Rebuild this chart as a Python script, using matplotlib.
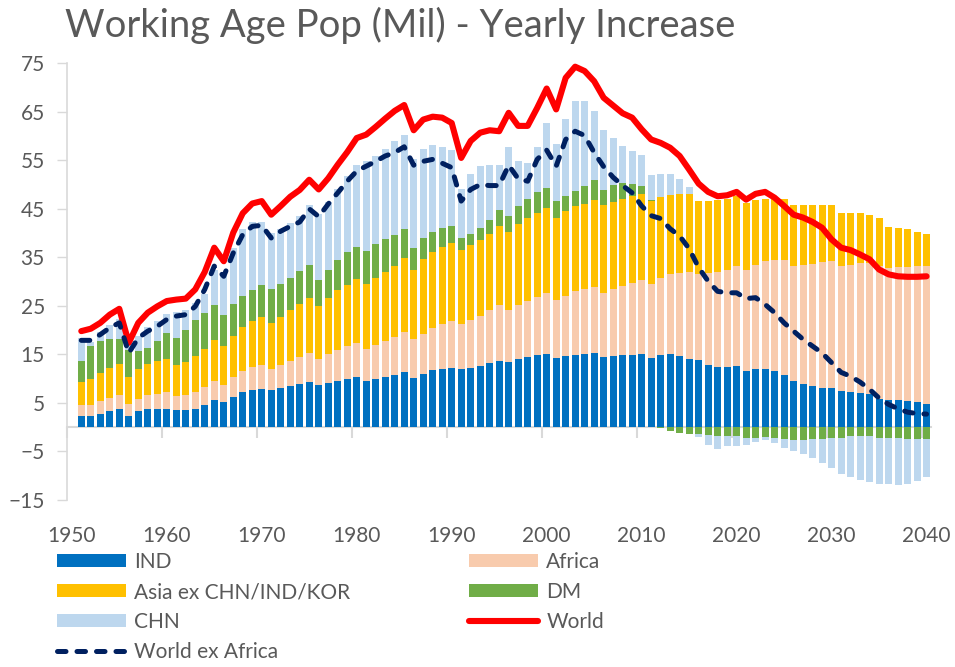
import numpy as np
import matplotlib
matplotlib.use("Agg")
import matplotlib.pyplot as plt
from matplotlib.patches import Patch
from matplotlib.lines import Line2D

plt.rcParams['font.family'] = ['Lato', 'DejaVu Sans']

# data, yearly increase in working age population (mil)
years = np.arange(1951, 2041)

ind = [2.4, 2.3, 2.7, 3.3, 3.7, 2.4, 3.3, 3.7, 3.8, 3.7,
       3.6, 3.6, 3.8, 4.5, 5.6, 5.2, 6.3, 7.2, 7.6, 7.9,
       7.6, 8.0, 8.4, 8.9, 9.3, 8.7, 9.1, 9.6, 10.0, 10.3,
       9.6, 10.0, 10.3, 10.7, 11.3, 10.2, 11.0, 11.7, 12.0, 12.2,
       11.9, 12.1, 12.6, 13.2, 13.7, 13.4, 14.0, 14.5, 14.8, 15.1,
       14.2, 14.6, 14.8, 15.0, 15.2, 14.4, 14.6, 14.8, 14.9, 15.1,
       14.3, 14.8, 15.0, 14.6, 14.1, 13.8, 12.9, 12.4, 12.4, 12.7,
       11.5, 12.0, 12.0, 11.5, 10.7, 9.6, 9.0, 8.5, 8.1, 8.0,
       7.4, 7.3, 7.1, 6.9, 5.9, 5.7, 5.6, 5.4, 5.2, 4.8]

africa = [2.1, 2.3, 2.6, 2.7, 3.0, 2.3, 2.6, 3.0, 3.1, 3.5,
          2.9, 3.1, 3.4, 3.8, 4.0, 3.6, 4.0, 4.3, 4.8, 5.0,
          4.4, 4.9, 5.2, 5.5, 6.0, 5.4, 6.0, 6.4, 6.8, 7.0,
          6.6, 6.9, 7.4, 7.9, 8.3, 7.9, 8.3, 8.8, 9.3, 9.7,
          9.3, 9.9, 10.4, 10.9, 11.4, 10.7, 11.1, 11.6, 12.1, 12.5,
          12.0, 12.5, 13.2, 13.5, 13.7, 13.3, 13.8, 14.2, 14.9, 15.3,
          15.3, 15.9, 16.5, 17.2, 17.9, 17.8, 18.9, 19.6, 20.1, 20.6,
          21.0, 21.4, 22.2, 22.9, 23.7, 23.6, 24.5, 25.2, 25.9, 26.2,
          25.8, 26.2, 26.7, 27.0, 27.3, 27.2, 27.5, 27.7, 28.0, 28.4]

asia = [4.9, 5.4, 5.9, 6.2, 6.4, 5.6, 6.0, 6.4, 6.7, 6.9,
        6.4, 6.8, 7.4, 7.8, 8.3, 7.9, 8.5, 9.1, 9.5, 9.9,
        9.5, 9.9, 10.5, 11.0, 11.3, 10.8, 11.6, 12.2, 12.6, 13.3,
        13.4, 13.8, 14.3, 14.7, 15.2, 14.4, 15.3, 15.6, 15.9, 16.0,
        15.3, 15.5, 15.5, 15.8, 16.3, 16.1, 16.7, 17.1, 17.3, 17.6,
        17.0, 17.4, 17.6, 17.6, 18.0, 18.1, 18.1, 18.1, 17.8, 17.6,
        17.1, 16.7, 16.3, 16.2, 16.0, 15.0, 14.8, 14.8, 14.6, 14.3,
        13.8, 13.5, 12.9, 12.7, 12.7, 12.6, 12.3, 12.1, 11.8, 11.6,
        10.9, 10.7, 10.3, 9.9, 10.0, 8.4, 7.9, 7.7, 7.1, 6.7]

dm = [4.3, 6.7, 6.5, 5.9, 5.0, 5.7, 3.9, 3.3, 4.1, 5.3,
      5.5, 6.6, 7.4, 7.5, 7.3, 6.5, 6.6, 6.4, 6.3, 6.5,
      6.9, 6.8, 6.6, 6.8, 6.9, 5.5, 5.8, 6.2, 6.7, 6.6,
      6.8, 7.0, 6.7, 6.4, 6.0, 4.5, 4.3, 4.2, 3.9, 3.5,
      2.5, 2.4, 2.6, 2.9, 3.3, 3.4, 3.8, 3.9, 4.2, 4.0,
      3.4, 3.1, 3.1, 3.7, 4.0, 3.0, 3.4, 3.3, 2.6, 1.7,
      0.2, -0.2, -0.8, -1.2, -1.4, -1.5, -1.7, -1.9, -1.9, -1.9,
      -2.3, -2.3, -2.1, -2.3, -2.4, -2.6, -2.6, -2.5, -2.4, -2.3,
      -2.2, -1.9, -1.9, -1.9, -2.3, -2.3, -2.3, -2.4, -2.5, -2.5]

chn = [4.7, 0.8, 1.9, 2.9, 4.1, 1.5, 3.0, 4.3, 4.2, 4.0,
       5.4, 4.0, 3.6, 3.8, 7.3, 8.6, 11.6, 13.9, 14.1, 13.0,
       11.7, 11.2, 11.3, 11.4, 12.3, 13.6, 13.9, 14.7, 15.7, 16.8,
       18.4, 18.2, 18.6, 19.3, 19.5, 18.2, 18.4, 17.8, 16.7, 15.7,
       10.1, 12.2, 12.7, 11.2, 9.3, 14.1, 9.2, 7.3, 9.4, 13.4,
       11.7, 15.9, 18.5, 17.4, 14.3, 12.4, 9.8, 7.6, 6.8, 6.3,
       5.1, 4.8, 4.3, 3.1, 1.5, -0.6, -2.0, -2.6, -2.0, -2.0,
       -1.4, -0.7, -0.6, -0.9, -1.9, -2.4, -3.0, -3.8, -5.0, -6.1,
       -7.4, -8.3, -8.9, -9.4, -9.5, -9.5, -9.7, -9.4, -8.6, -7.7]

world = [19.8, 20.3, 21.5, 23.2, 24.4, 17.4, 21.5, 23.6, 24.9, 26.0,
         26.3, 26.5, 28.4, 32.0, 37.0, 34.2, 40.1, 44.1, 46.1, 46.6,
         43.8, 45.6, 47.5, 48.9, 51.0, 49.0, 51.3, 54.1, 56.7, 59.6,
         60.3, 61.9, 63.6, 65.2, 66.4, 61.2, 63.4, 64.0, 63.8, 62.7,
         55.5, 59.0, 60.7, 61.2, 61.0, 64.8, 62.1, 62.1, 65.8, 69.8,
         65.5, 72.0, 74.3, 73.4, 71.3, 67.9, 66.3, 64.7, 63.8, 61.4,
         59.3, 58.6, 57.6, 55.9, 53.1, 50.2, 48.5, 47.6, 47.8, 48.5,
         46.9, 48.1, 48.5, 47.3, 45.6, 43.8, 43.2, 42.3, 41.1, 38.7,
         37.0, 36.5, 35.6, 34.6, 32.5, 31.5, 31.1, 31.0, 31.0, 31.1]

world_ex_africa = [17.9, 17.9, 19.1, 20.5, 21.5, 15.3, 18.4, 19.8, 20.8, 22.2,
                   22.9, 23.2, 24.9, 28.4, 33.2, 31.1, 35.9, 39.7, 41.4, 41.6,
                   39.0, 40.4, 41.4, 42.3, 45.0, 43.4, 46.0, 48.3, 50.7, 52.8,
                   53.8, 54.8, 55.9, 56.6, 57.8, 54.0, 54.8, 55.2, 54.4, 53.5,
                   46.6, 49.0, 50.0, 49.8, 49.8, 54.0, 51.2, 50.7, 55.2, 57.1,
                   53.8, 59.3, 61.0, 60.1, 56.6, 53.7, 51.5, 49.8, 48.3, 45.6,
                   43.6, 43.0, 40.9, 39.4, 36.8, 32.9, 30.1, 28.0, 27.7, 27.7,
                   26.5, 26.7, 25.3, 23.6, 21.5, 19.8, 18.1, 16.7, 15.3, 13.3,
                   11.3, 10.5, 9.3, 7.8, 6.0, 4.7, 3.8, 3.1, 2.8, 2.7]

bar_series = [('IND', ind, '#0070C0'),
              ('Africa', africa, '#F8CBAD'),
              ('Asia ex CHN/IND/KOR', asia, '#FFC000'),
              ('DM', dm, '#70AD47'),
              ('CHN', chn, '#BDD7EE')]

grey = '#595959'
axis_grey = '#D9D9D9'
ymin, ymax = -15, 75
dash = (0, (1.7, 2.2))

fig = plt.figure(figsize=(9.55, 6.67), dpi=100)
ax = fig.add_axes([0.0702, 0.2504, 0.905, 0.6547])

# stacked bars, positives up and negatives down
pos_bottom = np.zeros(len(years))
neg_bottom = np.zeros(len(years))
handles = {}
for name, vals, col in bar_series:
    v = np.array(vals)
    bottom = np.where(v >= 0, pos_bottom, neg_bottom)
    ax.bar(years, v, bottom=bottom, width=0.74, color=col, linewidth=0, zorder=2)
    pos_bottom += np.where(v >= 0, v, 0)
    neg_bottom += np.where(v < 0, v, 0)
    handles[name] = Patch(facecolor=col, edgecolor='none')

ax.plot(years, world, color='#FF0000', lw=4.4, solid_joinstyle='round',
        solid_capstyle='round', zorder=4)
ax.plot(years, world_ex_africa, color='#002060', lw=3.6,
        linestyle=dash, dash_capstyle='round', zorder=5)
handles['World'] = Line2D([], [], color='#FF0000', lw=4.4, solid_capstyle='round')
handles['World ex Africa'] = Line2D([], [], color='#002060', lw=3.6,
                                    linestyle=dash, dash_capstyle='round')

ax.set_xlim(1949.5, 2040.5)
ax.set_ylim(ymin, ymax)

# y axis
ax.set_yticks(np.arange(-15, 76, 10))
ax.tick_params(axis='y', direction='out', length=7, width=1, color=axis_grey,
               labelsize=15, labelcolor=grey, pad=9)
for s in ['top', 'right', 'bottom']:
    ax.spines[s].set_visible(False)
ax.spines['left'].set_color(axis_grey)
ax.spines['left'].set_linewidth(1.2)

# x labels at the bottom of the plot
ax.set_xticks(np.arange(1950, 2041, 10))
ax.tick_params(axis='x', length=0, labelsize=15, labelcolor=grey, pad=19)

# zero line with the decade tick marks
zero_ax = ax.secondary_xaxis((0 - ymin) / (ymax - ymin))
zero_ax.spines['bottom'].set_color(axis_grey)
zero_ax.spines['bottom'].set_linewidth(1.5)
zero_ax.set_xticks(np.arange(1949.5, 2041, 10))
zero_ax.tick_params(axis='x', direction='out', length=8, width=1.5,
                    color=axis_grey, labelbottom=False)

fig.text(0.068, 0.962, 'Working Age Pop (Mil) - Yearly Increase', fontsize=27.5,
         color=grey, ha='left', va='center')

order = ['IND', 'Asia ex CHN/IND/KOR', 'CHN', 'World ex Africa',
         'Africa', 'DM', 'World']
fig.legend([handles[k] for k in order], order, ncol=2, loc='upper left',
           bbox_to_anchor=(0.060, 0.1724), frameon=False, fontsize=15,
           labelcolor=grey, handlelength=3.3, handleheight=0.6,
           handletextpad=0.4, labelspacing=0.48, columnspacing=5.7,
           borderaxespad=0, borderpad=0)

fig.savefig('out.png', dpi=100)
